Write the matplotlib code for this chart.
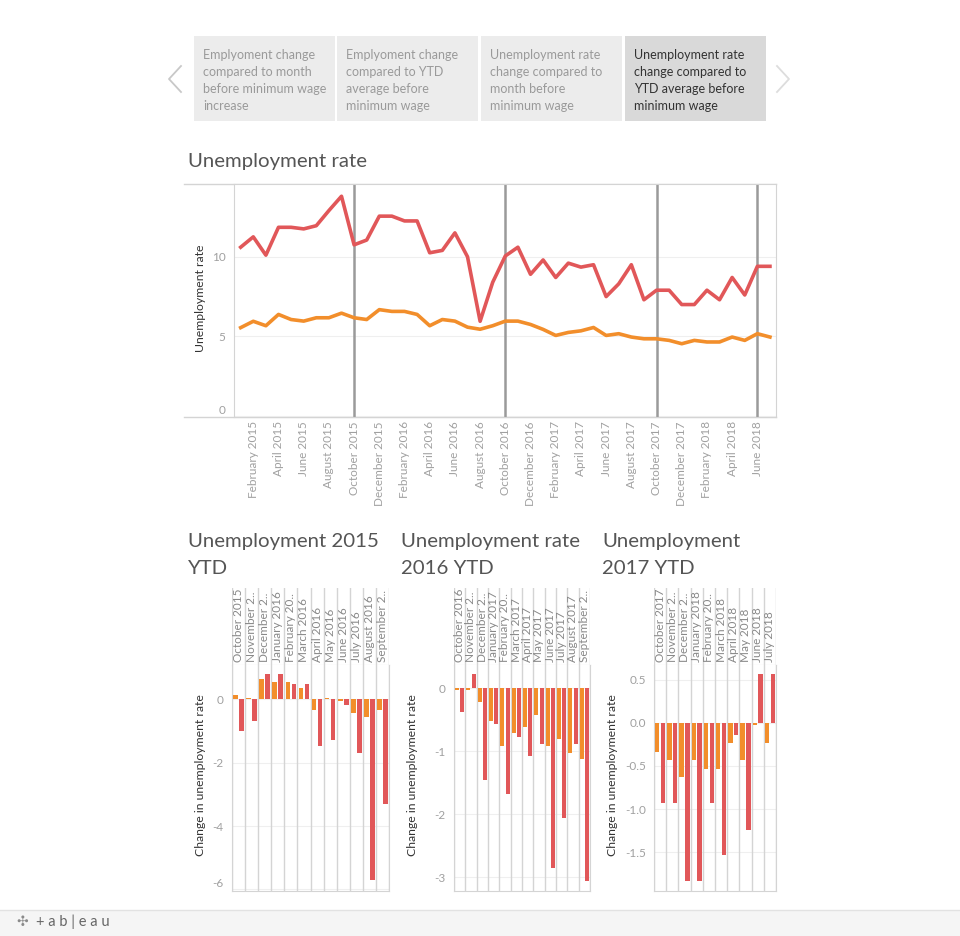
import numpy as np
import matplotlib
matplotlib.use("Agg")
import matplotlib.pyplot as plt
from matplotlib.patches import Rectangle

plt.rcParams['font.family'] = ['Lato', 'DejaVu Sans']
plt.rcParams['axes.unicode_minus'] = False

W, H = 960, 936

# ---- data ----
month_names = ["January", "February", "March", "April", "May", "June", "July",
               "August", "September", "October", "November", "December"]
months = [m + " " + str(y) for y in (2015, 2016, 2017, 2018) for m in month_names][:43]

rate_red = [10.6, 11.25, 10.1, 11.85, 11.85, 11.75, 11.95, 12.9, 13.8, 10.75,
            11.05, 12.55, 12.55, 12.25, 12.25, 10.25, 10.4, 11.5, 10.0, 5.95,
            8.4, 10.05, 10.6, 8.9, 9.8, 8.7, 9.6, 9.35, 9.5, 7.5,
            8.3, 9.5, 7.3, 7.9, 7.9, 7.0, 7.0, 7.9, 7.3, 8.7,
            7.6, 9.4, 9.4]
rate_orange = [5.55, 5.95, 5.67, 6.38, 6.06, 5.96, 6.17, 6.17, 6.46, 6.17,
               6.06, 6.68, 6.57, 6.57, 6.38, 5.67, 6.06, 5.96, 5.58, 5.45,
               5.67, 5.96, 5.96, 5.75, 5.44, 5.06, 5.25, 5.35, 5.56, 5.06,
               5.17, 4.96, 4.85, 4.85, 4.75, 4.54, 4.75, 4.65, 4.65, 4.96,
               4.75, 5.17, 4.96]
ref_lines = ["October 2015", "October 2016", "October 2017", "June 2018"]

ytd15_labels = ["October 2015", "November 2..", "December 2..", "January 2016",
                "February 20..", "March 2016", "April 2016", "May 2016",
                "June 2016", "July 2016", "August 2016", "September 2.."]
ytd15_orange = [0.14, 0.03, 0.64, 0.55, 0.55, 0.34, -0.34, 0.04, -0.04, -0.45, -0.55, -0.34]
ytd15_red = [-0.99, -0.69, 0.79, 0.79, 0.49, 0.49, -1.49, -1.29, -0.19, -1.71, -5.7, -3.32]

ytd16_labels = ["October 2016", "November 2..", "December 2..", "January 2017",
                "February 20..", "March 2017", "April 2017", "May 2017",
                "June 2017", "July 2017", "August 2017", "September 2.."]
ytd16_orange = [-0.02, -0.02, -0.21, -0.52, -0.91, -0.71, -0.62, -0.43, -0.91, -0.81, -1.02, -1.12]
ytd16_red = [-0.37, 0.22, -1.46, -0.57, -1.68, -0.77, -1.07, -0.88, -2.86, -2.06, -0.88, -3.06]

ytd17_labels = ["October 2017", "November 2..", "December 2..", "January 2018",
                "February 20..", "March 2018", "April 2018", "May 2018",
                "June 2018", "July 2018"]
ytd17_orange = [-0.34, -0.43, -0.63, -0.43, -0.53, -0.53, -0.23, -0.43, -0.03, -0.23]
ytd17_red = [-0.93, -0.93, -1.83, -1.83, -0.93, -1.53, -0.14, -1.24, 0.56, 0.56]

tabs = [["Emplyoment change", "compared to month", "before minimum wage", "increase"],
        ["Emplyoment change", "compared to YTD", "average before", "minimum wage"],
        ["Unemployment rate", "change compared to", "month before", "minimum wage"],
        ["Unemployment rate", "change compared to", "YTD average before", "minimum wage"]]

RED = "#e15759"
ORANGE = "#f28e2b"
GRID = "#efefef"
LINE = "#d4d4d4"
TICK = "#a0a0a0"

fig = plt.figure(figsize=(W / 100, H / 100), dpi=100)

bg = fig.add_axes([0, 0, 1, 1])
bg.set_xlim(0, W)
bg.set_ylim(H, 0)
bg.axis("off")


def ax_px(l, t, r, b):
    return fig.add_axes([l / W, 1 - b / H, (r - l) / W, (b - t) / H])


# ---- tab bar ----
tab_x = [194, 337, 481, 625]
for i, lines in enumerate(tabs):
    fc = "#d9d9d9" if i == 3 else "#ececec"
    tc = "#333333" if i == 3 else "#9a9a9a"
    bg.add_patch(Rectangle((tab_x[i], 36), 141, 85, fc=fc, ec="none"))
    for j, s in enumerate(lines):
        bg.text(tab_x[i] + 9, 55 + j * 17, s, fontsize=9, color=tc, va="center")
bg.plot([181, 169, 181], [66, 79, 92], color="#c8c8c8", lw=1.3)
bg.plot([777, 789, 777], [66, 79, 92], color="#dddddd", lw=1.3)

# ---- main line chart ----
bg.text(188, 162, "Unemployment rate", fontsize=14.7, color="#555555", va="center")
bg.plot([184, 776], [183.5, 183.5], color=LINE, lw=1)
bg.plot([184, 776], [417, 417], color=LINE, lw=1)

ax = ax_px(234, 183.5, 776, 417)
x = np.arange(len(months))
for m in ref_lines:
    ax.axvline(months.index(m), color="#9a9a9a", lw=1.8, zorder=1)
ax.plot(x, rate_red, color=RED, lw=2.6, zorder=3)
ax.plot(x, rate_orange, color=ORANGE, lw=2.6, zorder=3)
ax.set_xlim(-0.53, 42.48)
ax.set_ylim(-0.06, 14.6)
ax.set_yticks([0, 5, 10])
ax.set_yticklabels(["0", "5", "10"])
ax.yaxis.get_ticklabels()[0].set_va("bottom")
ax.set_xticks(x[1::2])
ax.set_xticklabels(months[1::2], rotation=90)
ax.tick_params(length=0, labelsize=8.5, labelcolor=TICK)
ax.tick_params(axis="y", pad=6, labelsize=8.5)
ax.tick_params(axis="x", pad=3)
ax.grid(axis="y", color=GRID, lw=0.8)
ax.set_axisbelow(True)
for s in ax.spines.values():
    s.set_color(LINE)
bg.text(200, 298, "Unemployment rate", rotation=90, fontsize=8.8,
        color="#333333", ha="center", va="center")


# ---- YTD bar charts ----
def ytd_chart(l, r, tx, titles, labels, orange, red, ylim, yticks, yticklabels,
              ylab_x, shift_bottom=False):
    n = len(labels)
    bg.text(tx, 541, titles[0], fontsize=14.7, color="#555555", va="center")
    bg.text(tx, 568, titles[1], fontsize=14.7, color="#555555", va="center")

    hx = ax_px(l, 588, r, 665)
    hx.set_xlim(0, n)
    hx.set_ylim(0, 1)
    hx.set_xticks([])
    hx.set_yticks([])
    for s in ("top", "left", "right"):
        hx.spines[s].set_visible(False)
    hx.spines["bottom"].set_color(LINE)
    for i in range(n + 1):
        hx.axvline(i, color=LINE, lw=1)
    for i, s in enumerate(labels):
        hx.text(i + 0.5, 0.04, s, rotation=90, ha="center", va="bottom",
                fontsize=8.5, color="#888888")

    pa = ax_px(l, 665, r, 891)
    idx = np.arange(n)
    pa.bar(idx + 0.27, orange, width=0.36, color=ORANGE, zorder=3)
    pa.bar(idx + 0.73, red, width=0.36, color=RED, zorder=3)
    for i in range(n + 1):
        pa.axvline(i, color=LINE, lw=1, zorder=1)
    pa.set_xlim(0, n)
    pa.set_ylim(*ylim)
    pa.set_xticks([])
    pa.set_yticks(yticks)
    pa.set_yticklabels(yticklabels)
    if shift_bottom:
        pa.yaxis.get_ticklabels()[-1].set_va("bottom")
    pa.tick_params(length=0, labelsize=8.5, labelcolor=TICK, pad=6)
    pa.grid(axis="y", color=GRID, lw=0.8)
    pa.set_axisbelow(True)
    pa.spines["top"].set_visible(False)
    for s in ("left", "right", "bottom"):
        pa.spines[s].set_color(LINE)
    bg.text(ylab_x, 775, "Change in unemployment rate", rotation=90, fontsize=8.8,
            color="#333333", ha="center", va="center")


ytd_chart(232, 389, 188, ["Unemployment 2015", "YTD"], ytd15_labels, ytd15_orange, ytd15_red,
          (-6.05, 1.08), [0, -2, -4, -6], ["0", "-2", "-4", "-6"], 200, True)
ytd_chart(454, 590, 401, ["Unemployment rate", "2016 YTD"], ytd16_labels, ytd16_orange, ytd16_red,
          (-3.22, 0.37), [0, -1, -2, -3], ["0", "-1", "-2", "-3"], 413)
ytd_chart(654, 776, 602, ["Unemployment", "2017 YTD"], ytd17_labels, ytd17_orange, ytd17_red,
          (-1.95, 0.67), [0.5, 0, -0.5, -1, -1.5], ["0.5", "0.0", "-0.5", "-1.0", "-1.5"], 613)

# ---- footer ----
bg.add_patch(Rectangle((0, 910), W, 26, fc="#f5f5f5", ec="none"))
bg.plot([0, W], [910, 910], color="#e2e2e2", lw=1)
bg.text(16, 922, "\u2723", fontsize=10, color="#8a8a8a", va="center",
        family=["DejaVu Sans"])
bg.text(36, 922, "+ a b | e a u", fontsize=10.5, color="#666666", va="center")

fig.savefig("out.png", dpi=100, facecolor="white")
